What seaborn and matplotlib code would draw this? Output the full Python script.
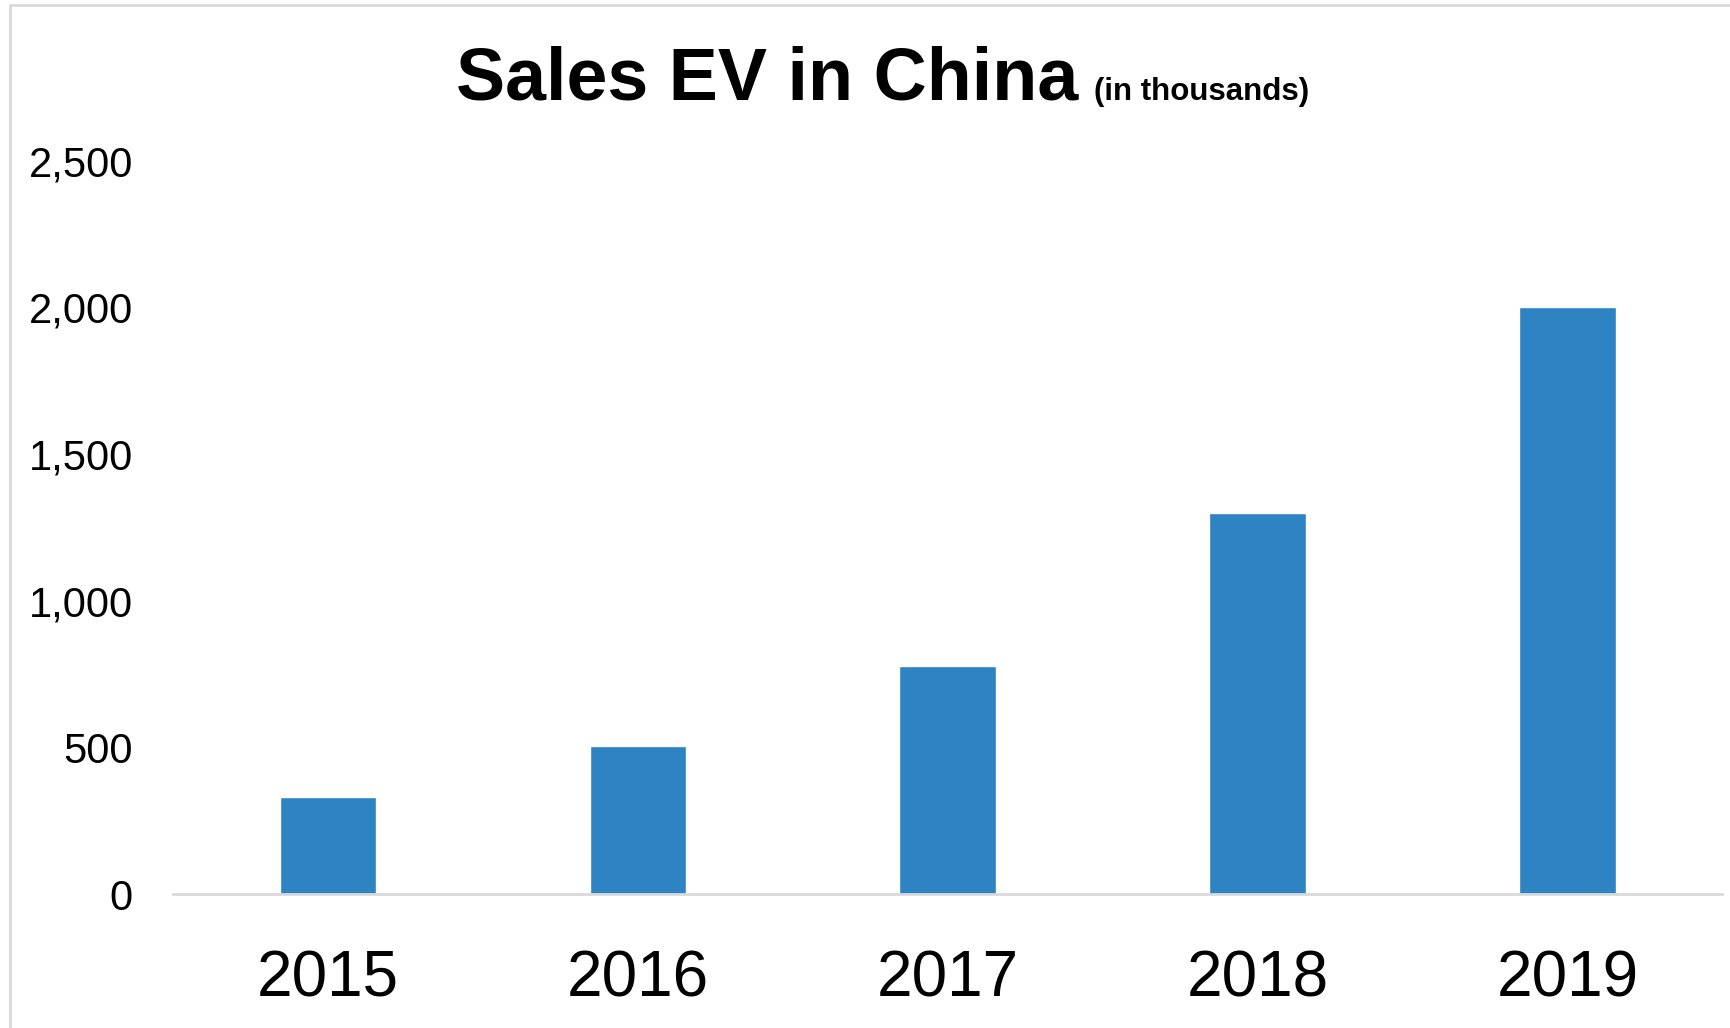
import matplotlib
matplotlib.use("Agg")
import pandas as pd
import seaborn as sns
import matplotlib.pyplot as plt
from matplotlib.patches import Rectangle
from matplotlib.ticker import FuncFormatter

# datos (miles de unidades)
years = ["2015", "2016", "2017", "2018", "2019"]
sales = [331, 507, 777, 1300, 2000]
y_ticks = [0, 500, 1000, 1500, 2000, 2500]

df = pd.DataFrame({"year": years, "sales": sales})

sns.set_style("white")
plt.rcParams["font.family"] = ["Liberation Sans", "DejaVu Sans"]

fig = plt.figure(figsize=(17.31, 10.28), dpi=100)
ax = fig.add_axes([0.1, 0.13, 0.895, 0.7136])

sns.barplot(data=df, x="year", y="sales", color="#2e83c3", saturation=1,
            width=0.312, ax=ax)

ax.set_ylim(0, 2500)
ax.set_yticks(y_ticks)
ax.yaxis.set_major_formatter(FuncFormatter(lambda v, p: f"{int(v):,}"))
ax.set_xlabel("")
ax.set_ylabel("")
ax.tick_params(axis="y", length=0, pad=29, labelsize=30, labelcolor="black")
ax.tick_params(axis="x", length=0, pad=40, labelsize=46, labelcolor="black")

for side in ["top", "right", "left"]:
    ax.spines[side].set_visible(False)
ax.spines["bottom"].set_color("#d9d9d9")
ax.spines["bottom"].set_linewidth(2)

# titulo
fig.text(0.2634, 0.903, "Sales EV in China", fontsize=53, fontweight="bold",
         color="black", ha="left", va="baseline")
fig.text(0.632, 0.903, "(in thousands)", fontsize=22.5, fontweight="bold",
         color="black", ha="left", va="baseline")

# borde exterior del grafico
fig.patches.append(Rectangle((0.006, -0.01), 1.1, 1.0055, transform=fig.transFigure,
                             fill=False, edgecolor="#d9d9d9", linewidth=2))

fig.savefig("out.png", dpi=100)
